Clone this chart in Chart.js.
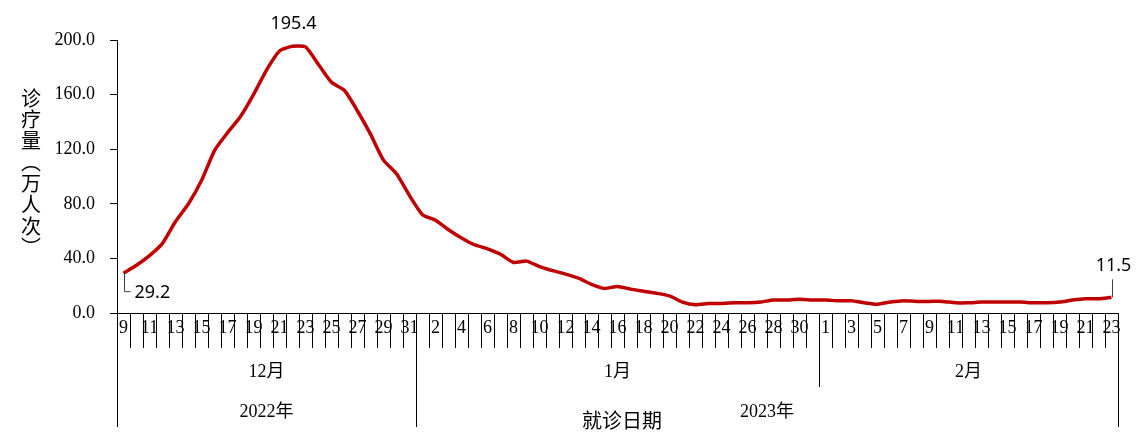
<!DOCTYPE html>
<html>
<head>
<meta charset="utf-8">
<script src="https://cdn.jsdelivr.net/npm/chart.js@4/dist/chart.umd.min.js"></script>
<style>
  html, body { margin: 0; padding: 0; background: #fff; }
  #wrap { width: 1140px; height: 446px; }
</style>
</head>
<body>
<div id="wrap"><canvas id="c"></canvas></div>
<script>
// Días mostrados por mes (9 dic 2022 – 23 feb 2023)
const decDays = [9,10,11,12,13,14,15,16,17,18,19,20,21,22,23,24,25,26,27,28,29,30,31];
const janDays = [1,2,3,4,5,6,7,8,9,10,11,12,13,14,15,16,17,18,19,20,21,22,23,24,25,26,27,28,29,30,31];
const febDays = [1,2,3,4,5,6,7,8,9,10,11,12,13,14,15,16,17,18,19,20,21,22,23];
const monthLabels = ["12月", "1月", "2月"];
const monthYear = [0, 1, 1];
const yearLabels = ["2022年", "2023年"];
const yTicks = [0, 40, 80, 120, 160, 200];

// 诊疗量（万人次）
const dec = [29.2,35,42,51,67,80,97,119,132,144,160,178,192,195.4,195,182,169,163,148,131,112,102,86];
const jan = [72,68,61,55,50,47,43,37,38,34,31,28.5,25.5,21,18,19.5,17.5,16,14.5,12.5,8,6,7,7,7.5,7.5,8,9.5,9.5,10,9.5];
const feb = [9.5,9,9,7.5,6.5,8,9,8.5,8.5,8.5,7.5,7.5,8,8,8,8,7.5,7.5,8,9.5,10.5,10.5,11.5];

const monthDays = [decDays, janDays, febDays];
const labels = [].concat(decDays, janDays, febDays).map(String);
const values = [].concat(dec, jan, feb);

const SERIF = '"Liberation Serif", "Noto Sans CJK SC", serif';
const SANS = '"Noto Sans", "Noto Sans CJK SC", sans-serif';

// Eje x de tres niveles, título vertical y etiquetas de datos
const decoraciones = {
  id: "decoraciones",
  afterDraw(chart) {
    const ctx = chart.ctx;
    const xs = chart.scales.x, ys = chart.scales.y;
    const half = (xs.getPixelForValue(1) - xs.getPixelForValue(0)) / 2;
    const top = chart.chartArea.bottom;
    ctx.save();
    ctx.fillStyle = "#000";
    ctx.strokeStyle = "#000";
    ctx.lineWidth = 1;
    ctx.textAlign = "center";
    ctx.textBaseline = "middle";

    // días (uno sí, uno no)
    ctx.font = "18px " + SERIF;
    labels.forEach((l, i) => {
      if (i % 2 === 0) ctx.fillText(l, xs.getPixelForValue(i), top + 15);
    });

    // meses y años
    let start = 0;
    const yearSpan = {};
    monthDays.forEach((days, m) => {
      const end = start + days.length - 1;
      const x0 = xs.getPixelForValue(start) - half;
      const x1 = xs.getPixelForValue(end) + half;
      ctx.font = "18px " + SERIF;
      ctx.fillText(monthLabels[m], (x0 + x1) / 2, top + 59);
      const y = monthYear[m];
      const newYear = m === 0 || monthYear[m - 1] !== y;
      const xl = Math.round(x0) + 0.5;
      ctx.beginPath();
      ctx.moveTo(xl, top);
      ctx.lineTo(xl, newYear ? top + 114 : top + 74);
      ctx.stroke();
      yearSpan[y] = yearSpan[y] || [x0, x1];
      yearSpan[y][1] = x1;
      start = end + 1;
    });
    const xr = Math.round(xs.getPixelForValue(labels.length - 1) + half) + 0.5;
    ctx.beginPath();
    ctx.moveTo(xr, top);
    ctx.lineTo(xr, top + 114);
    ctx.stroke();
    yearLabels.forEach((l, y) => {
      const s = yearSpan[y];
      ctx.fillText(l, (s[0] + s[1]) / 2, top + 99);
    });

    // título del eje x
    ctx.font = "20px " + SANS;
    ctx.fillText("就诊日期", 622, top + 109);

    // título vertical del eje y
    ctx.font = "20px " + SANS;
    const titulo = ["诊", "疗", "量", "︵", "万", "人", "次", "︶"];
    titulo.forEach((ch, k) => ctx.fillText(ch, 31, 100 + k * 21.3));

    // etiquetas de datos
    ctx.font = "18px " + SANS;
    const iMax = values.indexOf(Math.max(...values));
    ctx.fillText(values[iMax].toFixed(1), xs.getPixelForValue(iMax) + 1, ys.getPixelForValue(values[iMax]) - 22);

    ctx.strokeStyle = "#404040";
    let px = Math.round(xs.getPixelForValue(0)) + 0.5;
    let py = ys.getPixelForValue(values[0]);
    ctx.beginPath();
    ctx.moveTo(px, py);
    ctx.lineTo(px, py + 18.5);
    ctx.lineTo(px + 6, py + 18.5);
    ctx.stroke();
    ctx.textAlign = "left";
    ctx.fillText(values[0].toFixed(1), px + 10, py + 20);

    const n = values.length - 1;
    px = Math.round(xs.getPixelForValue(n)) + 0.5;
    py = ys.getPixelForValue(values[n]);
    ctx.beginPath();
    ctx.moveTo(px, py);
    ctx.lineTo(px, py - 18);
    ctx.stroke();
    ctx.textAlign = "center";
    ctx.fillText(values[n].toFixed(1), px + 1, py - 31);
    ctx.restore();
  }
};

new Chart(document.getElementById("c"), {
  type: "line",
  data: {
    labels: labels,
    datasets: [{
      data: values,
      borderColor: "#C00000",
      borderWidth: 3.5,
      pointRadius: 0,
      tension: 0.2,
      fill: false,
    }],
  },
  options: {
    responsive: true,
    maintainAspectRatio: false,
    animation: false,
    layout: { padding: { top: 40, right: 22, left: 0, bottom: 0 } },
    plugins: { legend: { display: false }, tooltip: { enabled: false } },
    scales: {
      x: {
        type: "category",
        offset: true,
        afterFit: (s) => { s.height = 133; },
        grid: { offset: true, drawOnChartArea: false, drawTicks: true, tickLength: 35, color: "#000", lineWidth: 1 },
        border: { color: "#000", width: 1 },
        ticks: { display: false, autoSkip: false },
      },
      y: {
        min: 0,
        max: 200,
        afterFit: (s) => { s.width = 117; },
        afterBuildTicks: (s) => { s.ticks = yTicks.map((v) => ({ value: v })); },
        grid: { drawOnChartArea: false, drawTicks: true, tickLength: 7, color: "#000" },
        border: { color: "#000", width: 1 },
        ticks: {
          color: "#000",
          padding: 15,
          font: { family: SERIF, size: 18 },
          callback: (v) => Number(v).toFixed(1),
        },
      },
    },
  },
  plugins: [decoraciones],
});
</script>
</body>
</html>
